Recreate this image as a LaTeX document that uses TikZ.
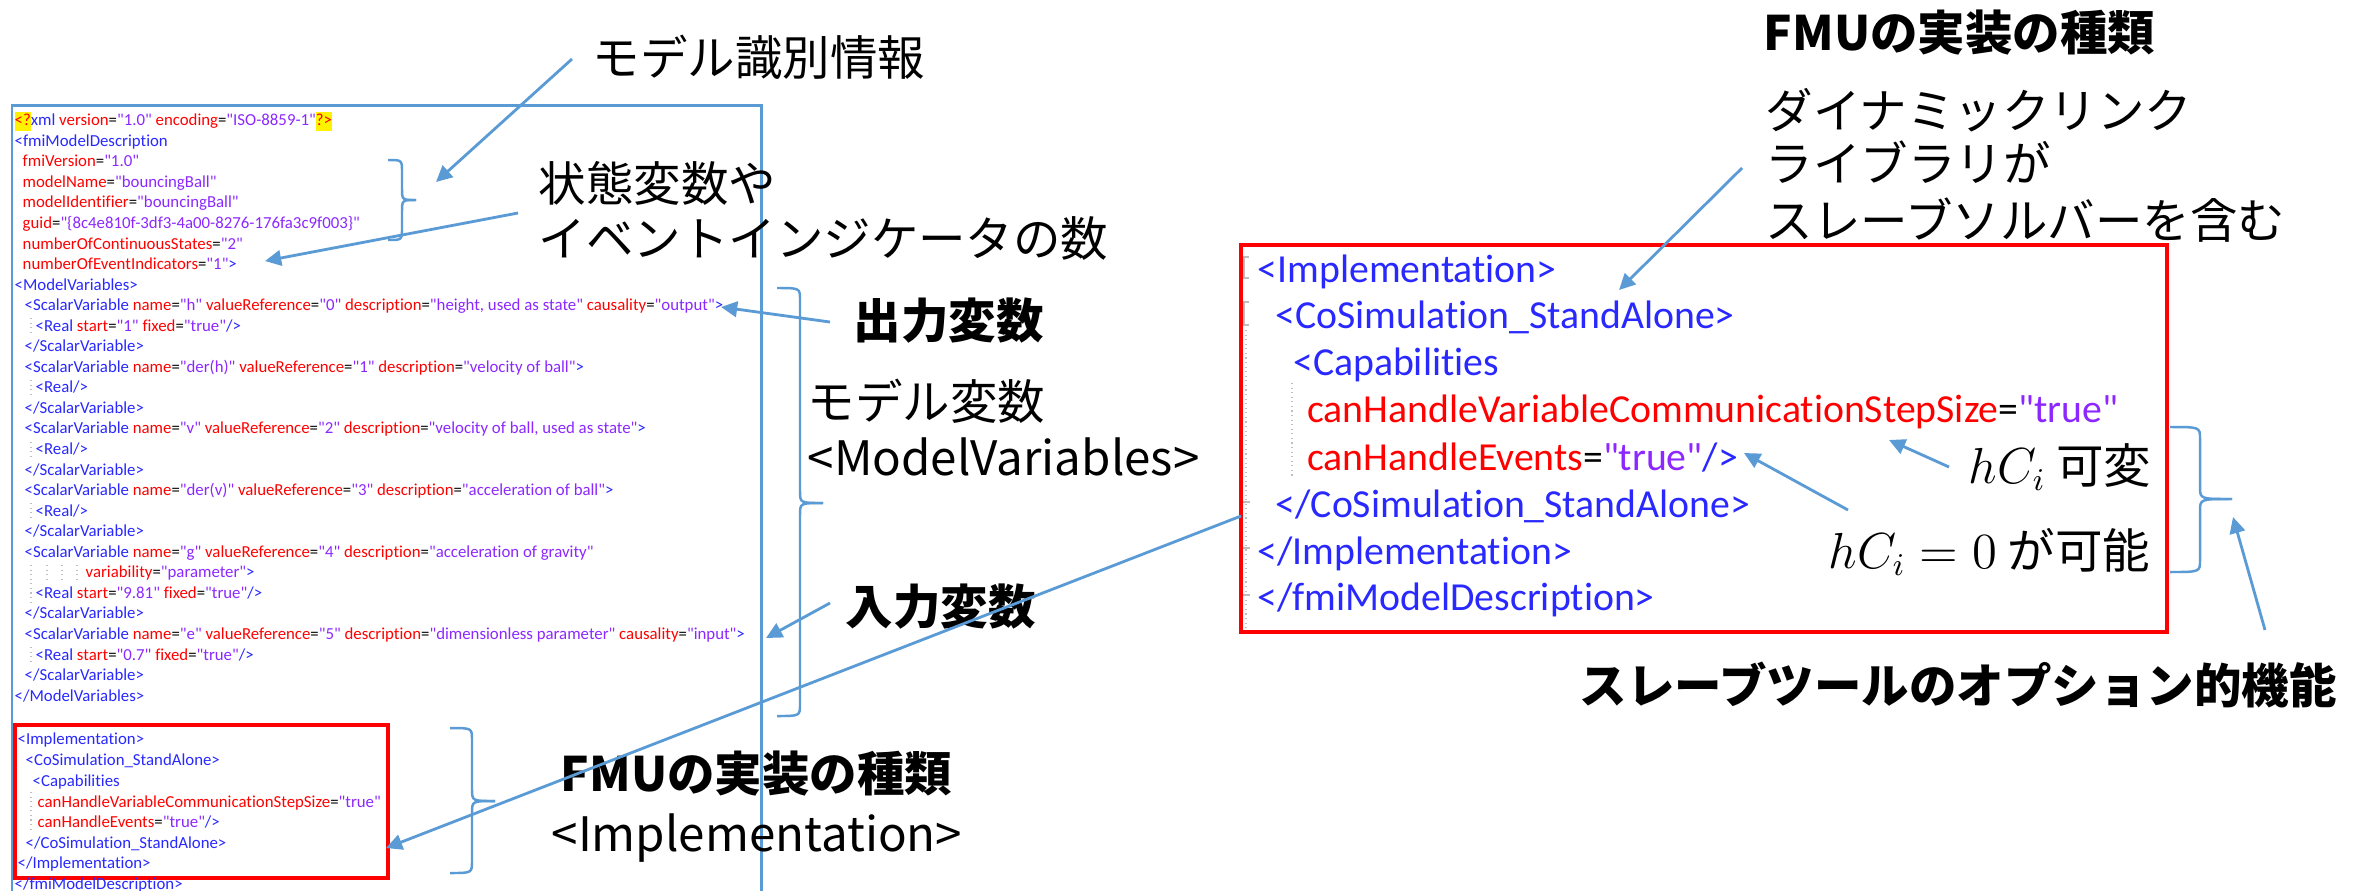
\documentclass[tikz,border=0pt]{standalone}
\usepackage[no-math]{fontspec}
\usetikzlibrary{arrows.meta}
\setmainfont{Carlito}
\newfontfamily\codefont[Ligatures=NoCommon]{Carlito}
\newfontfamily\jpfont{Noto Sans CJK JP}
\definecolor{callout}{RGB}{91,155,213}
\definecolor{xtag}{RGB}{40,40,255}
\definecolor{xattr}{RGB}{255,0,0}
\definecolor{xval}{RGB}{140,40,255}
\definecolor{xguide}{RGB}{190,190,190}
% XML syntax colouring
\newcommand\Tg[1]{\textcolor{xtag}{#1}}
\newcommand\At[1]{\textcolor{xattr}{#1}}
\newcommand\Vl[1]{\textcolor{xval}{#1}}
\newcommand\Av[2]{\At{#1}=\Vl{"#2"}}
\newcommand\Hl[1]{{\setlength\fboxsep{0pt}\colorbox{yellow}{\strut\textcolor{xattr}{#1}}}}
% curly brace opening to the left, tip pointing right
\newcommand\drawbrace[6]{%
  \draw[bracestyle] (#1,#4) .. controls (#2,#4) .. (#2,#4+12) -- (#2,#5-12) .. controls (#2,#5) .. (#3,#5);
  \draw[bracestyle] (#3,#5) .. controls (#2,#5) .. (#2,#5+12) -- (#2,#6-12) .. controls (#2,#6) .. (#1,#6);}
\begin{document}
\begin{tikzpicture}[x=0.01cm,y=-0.01cm,
  code/.style={anchor=base west,inner sep=0pt,font=\codefont\fontsize{4.78}{5.5}\selectfont},
  bigcode/.style={anchor=base west,inner sep=0pt,font=\codefont\fontsize{11.3}{13}\selectfont},
  jp/.style={anchor=base west,inner sep=0pt,font=\jpfont\fontsize{13.5}{16}\selectfont},
  jpb/.style={anchor=base west,inner sep=0pt,font=\jpfont\bfseries\fontsize{13.5}{16}\selectfont},
  callarrow/.style={draw=callout,line width=0.8pt,-{Triangle[length=4.6pt,width=4.4pt]}},
  bracestyle/.style={draw=callout,line width=0.7pt},
  frame/.style={draw=callout,line width=0.85pt},
  redframe/.style={draw=red,line width=1pt},
  guide/.style={draw=xguide,line width=0.3pt,densely dotted}]
\useasboundingbox (0,0) rectangle (2358,890);
\clip (0,0) rectangle (2358,890);
\fill[white] (0,0) rectangle (2358,890);

% ---------- modelDescription.xml listing ----------
\draw[frame] (12,940) -- (12,105) -- (761,105) -- (761,940);
\draw[redframe] (15,725) rectangle (388,878);

\draw[guide] (31,318) -- (31,336);
\draw[guide] (31,380) -- (31,398);
\draw[guide] (31,442) -- (31,460);
\draw[guide] (31,503) -- (31,521);
\draw[guide] (31,565) -- (31,603);
\draw[guide] (47,565) -- (47,583);
\draw[guide] (62,565) -- (62,583);
\draw[guide] (77,565) -- (77,583);
\draw[guide] (31,647) -- (31,665);
\draw[guide] (31,792) -- (31,832);

\node[code] (c1) at (14,125.5) {\Hl{<?}\Tg{xml} \Av{version}{1.0} \Av{encoding}{ISO-8859-1}\Hl{?>}};
\node[code] (c2) at (14,146) {\Tg{<fmiModelDescription}};
\node[code] (c3) at (22,166.5) {\Av{fmiVersion}{1.0}};
\node[code] (c4) at (22,187) {\Av{modelName}{bouncingBall}};
\node[code] (c5) at (22,207.5) {\Av{modelIdentifier}{bouncingBall}};
\node[code] (c6) at (22,228.5) {\Av{guid}{\{8c4e810f-3df3-4a00-8276-176fa3c9f003\}}};
\node[code] (c7) at (22,249) {\Av{numberOfContinuousStates}{2}};
\node[code] (c8) at (22,269.5) {\Av{numberOfEventIndicators}{1}\Tg{>}};
\node[code] (c9) at (14,290) {\Tg{<ModelVariables>}};
\node[code] (c10) at (24,310.5) {\Tg{<ScalarVariable} \Av{name}{h} \Av{valueReference}{0} \Av{description}{height, used as state} \Av{causality}{output}\Tg{>}};
\node[code] (c11) at (35,331) {\Tg{<Real} \Av{start}{1} \Av{fixed}{true}\Tg{/>}};
\node[code] (c12) at (24,351.5) {\Tg{</ScalarVariable>}};
\node[code] (c13) at (24,372) {\Tg{<ScalarVariable} \Av{name}{der(h)} \Av{valueReference}{1} \Av{description}{velocity of ball}\Tg{>}};
\node[code] (c14) at (35,392.5) {\Tg{<Real/>}};
\node[code] (c15) at (24,413) {\Tg{</ScalarVariable>}};
\node[code] (c16) at (24,433.5) {\Tg{<ScalarVariable} \Av{name}{v} \Av{valueReference}{2} \Av{description}{velocity of ball, used as state}\Tg{>}};
\node[code] (c17) at (35,454.5) {\Tg{<Real/>}};
\node[code] (c18) at (24,475) {\Tg{</ScalarVariable>}};
\node[code] (c19) at (24,495.5) {\Tg{<ScalarVariable} \Av{name}{der(v)} \Av{valueReference}{3} \Av{description}{acceleration of ball}\Tg{>}};
\node[code] (c20) at (35,516) {\Tg{<Real/>}};
\node[code] (c21) at (24,536.5) {\Tg{</ScalarVariable>}};
\node[code] (c22) at (24,557) {\Tg{<ScalarVariable} \Av{name}{g} \Av{valueReference}{4} \Av{description}{acceleration of gravity}};
\node[code] (c23) at (85,577.5) {\Av{variability}{parameter}\Tg{>}};
\node[code] (c24) at (35,598) {\Tg{<Real} \Av{start}{9.81} \Av{fixed}{true}\Tg{/>}};
\node[code] (c25) at (24,618.5) {\Tg{</ScalarVariable>}};
\node[code] (c26) at (24,639.5) {\Tg{<ScalarVariable} \Av{name}{e} \Av{valueReference}{5} \Av{description}{dimensionless parameter} \Av{causality}{input}\Tg{>}};
\node[code] (c27) at (35,660) {\Tg{<Real} \Av{start}{0.7} \Av{fixed}{true}\Tg{/>}};
\node[code] (c28) at (24,680.5) {\Tg{</ScalarVariable>}};
\node[code] (c29) at (14,701) {\Tg{</ModelVariables>}};
\node[code] (c30) at (17,744.5) {\Tg{<Implementation>}};
\node[code] (c31) at (25,765.5) {\Tg{<CoSimulation\_StandAlone>}};
\node[code] (c32) at (32,786.5) {\Tg{<Capabilities}};
\node[code] (c33) at (37,807.5) {\Av{canHandleVariableCommunicationStepSize}{true}};
\node[code] (c34) at (37,827.5) {\Av{canHandleEvents}{true}\Tg{/>}};
\node[code] (c35) at (25,848.5) {\Tg{</CoSimulation\_StandAlone>}};
\node[code] (c36) at (17,868.5) {\Tg{</Implementation>}};
\node[code] (c37) at (14,889.5) {\Tg{</fmiModelDescription>}};

% ---------- enlarged <Implementation> element ----------
\draw[redframe] (1241,245) rectangle (2167,632);
\draw[xguide,line width=0.5pt] (1249,257) -- (1244,257) -- (1244,278) -- (1249,278);
\draw[xguide,line width=0.5pt] (1249,302) -- (1244,302) -- (1244,325) -- (1249,325);
\draw[guide] (1246,330) -- (1246,630);
\draw[xguide,line width=0.5pt] (1243,502) -- (1250,502);
\draw[xguide,line width=0.5pt] (1243,548) -- (1250,548);
\draw[xguide,line width=0.5pt] (1243,595) -- (1250,595);
\draw[guide] (1292,383) -- (1292,477);

\node[bigcode] (k1) at (1257,282) {\Tg{<Implementation>}};
\node[bigcode] (k2) at (1275,328) {\Tg{<CoSimulation\_StandAlone>}};
\node[bigcode] (k3) at (1292.5,375) {\Tg{<Capabilities}};
\node[bigcode] (k4) at (1306.5,422) {\Av{canHandleVariableCommunicationStepSize}{true}};
\node[bigcode] (k5) at (1306.5,470) {\Av{canHandleEvents}{true}\Tg{/>}};
\node[bigcode] (k6) at (1275,517) {\Tg{</CoSimulation\_StandAlone>}};
\node[bigcode] (k7) at (1257,564) {\Tg{</Implementation>}};
\node[bigcode] (k8) at (1257,610) {\Tg{</fmiModelDescription>}};

% ---------- annotations ----------
\node[jp] (ident) at (592,75) {モデル識別情報};
\node[jp] (states1) at (538,201) {状態変数や};
\node[jp] (states2) at (538,256) {イベントインジケータの数};
\node[jpb] (out) at (853,338) {出力変数};
\node[jp] (mv1) at (807,419) {モデル変数};
\node[jp] (mv2) at (807,475) {<ModelVariables>};
\node[jpb] (in) at (845,624) {入力変数};
\node[jpb] (impl1) at (560,791) {FMUの実装の種類};
\node[jp] (impl2) at (551,851) {<Implementation>};
\node[jpb] (kind) at (1763,50) {FMUの実装の種類};
\node[jp] (dll1) at (1765,128) {ダイナミックリンク};
\node[jp] (dll2) at (1765,181) {ライブラリが};
\node[jp] (dll3) at (1765,238) {スレーブソルバーを含む};
\node[jp] (var) at (1968,483) {$hC_i$ 可変};
\node[jp] (zero) at (1828,568) {$hC_i=0$ が可能};
\node[jpb] (opt) at (1579,703) {スレーブツールのオプション的機能};

% ---------- braces ----------
\drawbrace{388}{402}{416}{160}{200}{240}
\drawbrace{777}{800}{823}{288}{503}{716}
\drawbrace{450}{472}{495}{728}{801}{873}
\drawbrace{2170}{2200}{2232}{427}{499}{572}

% ---------- callout arrows ----------
\coordinate (a1s) at (572,59);   \coordinate (a1e) at (436,182);
\coordinate (a2s) at (518,213);  \coordinate (a2e) at (265,261);
\coordinate (a3s) at (830,322);  \coordinate (a3e) at (721,307);
\coordinate (a4s) at (830,603);  \coordinate (a4e) at (766,638);
\coordinate (a5s) at (1241,516); \coordinate (a5e) at (386,848);
\coordinate (a6s) at (1742,168); \coordinate (a6e) at (1619,290);
\coordinate (a7s) at (1949,467); \coordinate (a7e) at (1889,440);
\coordinate (a8s) at (1848,510); \coordinate (a8e) at (1744,453);
\coordinate (a9s) at (2265,630); \coordinate (a9e) at (2233,517);
\foreach \n in {1,...,9} \draw[callarrow] (a\n s) -- (a\n e);
\end{tikzpicture}
\end{document}
